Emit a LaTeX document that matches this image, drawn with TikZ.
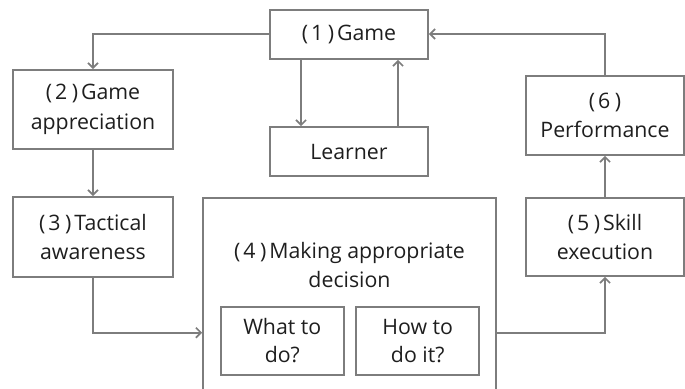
\documentclass[tikz,border=0pt]{standalone}
\usepackage{fontspec}
\setmainfont{Open Sans}
\newcommand{\pn}[1]{(\hspace{3pt}#1\hspace{4.5pt})\hspace{3pt}}
\usetikzlibrary{arrows.meta}
\definecolor{linegray}{RGB}{125,125,125}
\definecolor{textgray}{RGB}{30,30,30}
\begin{document}
\begin{tikzpicture}[x=1pt,y=-1pt,
  txt/.style={text=textgray, align=center, font=\fontsize{21.3}{29.5}\selectfont},
  box/.style={txt, draw=linegray, line width=1.7pt, rectangle, inner sep=0pt},
  conn/.style={draw=linegray, line width=1.7pt, -{Straight Barb[length=5pt,width=10pt,line width=1.7pt]}}]
\useasboundingbox (0,0) rectangle (685,388);
\clip (0,0) rectangle (685,388);
\node[box, minimum width=158pt, minimum height=49pt] (game) at (349,34.5) {\pn{1}Game};
\node[box, minimum width=158pt, minimum height=49pt] (learner) at (349,151.5) {Learner};
\node[box, minimum width=160pt, minimum height=79pt] (app) at (93,109.5) {\pn{2}Game\\appreciation};
\node[box, minimum width=160pt, minimum height=80pt] (tac) at (93,237) {\pn{3}Tactical\\awareness};
\node[box, minimum width=293pt, minimum height=192pt] (dec) at (349.5,294) {};
\node[txt] (dectxt) at (349.5,265) {\pn{4}Making appropriate\\decision};
\node[box, minimum width=123pt, minimum height=68pt, font=\fontsize{21.3}{28}\selectfont] (what) at (282.3,341) {What to\\do?};
\node[box, minimum width=123pt, minimum height=68pt, font=\fontsize{21.3}{28}\selectfont] (how) at (417.7,341) {How to\\do it?};
\node[box, minimum width=158pt, minimum height=78pt] (skill) at (605,237) {\pn{5}Skill\\execution};
\node[box, minimum width=158pt, minimum height=79pt] (perf) at (605,115.5) {\pn{6}\\Performance};
\coordinate (a1) at (93,34);
\coordinate (a2) at (93,332.7);
\coordinate (a3) at (605,332.7);
\coordinate (a4) at (605,34);
\draw[conn] (game.west |- a1) -- (a1) -- (app.north);
\draw[conn] (app.south) -- (tac.north);
\draw[conn] (tac.south) -- (a2) -- (dec.west |- a2);
\draw[conn] (dec.east |- a3) -- (a3) -- (skill.south);
\draw[conn] (skill.north) -- (perf.south);
\draw[conn] (perf.north) -- (a4) -- (game.east |- a4);
\draw[conn] ([xshift=-48pt]game.south) -- ([xshift=-48pt]learner.north);
\draw[conn] ([xshift=49pt]learner.north) -- ([xshift=49pt]game.south);
\end{tikzpicture}
\end{document}
